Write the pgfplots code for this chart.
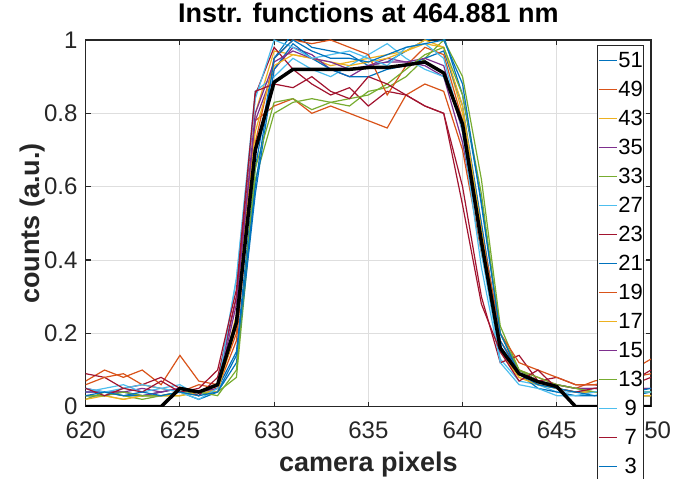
\documentclass[border=0pt]{standalone}
\usepackage{pgfplots}
\usepackage{pgfplotstable}
\pgfplotsset{compat=1.18}
\usepackage{fontspec}
\setmainfont{Liberation Sans}
\definecolor{mblue}{RGB}{0,114,189}
\definecolor{morange}{RGB}{217,83,25}
\definecolor{myellow}{RGB}{237,177,32}
\definecolor{mpurple}{RGB}{126,47,142}
\definecolor{mgreen}{RGB}{119,172,48}
\definecolor{mlight}{RGB}{77,190,238}
\definecolor{mred}{RGB}{162,20,47}
\definecolor{mgray}{RGB}{38,38,38}
\pgfplotstableread{
x   s51  s49  s43  s35  s33  s27  s23  s21  s19  s17  s15  s13  s9   s7   s3   mean
620 0.04 0.07 0.03 0.05 0.02 0.04 0.09 0.03 0.06 0.02 0.04 0.03 0.05 0.05 0.03 0
621 0.04 0.10 0.03 0.04 0.04 0.05 0.08 0.03 0.08 0.03 0.04 0.03 0.04 0.03 0.04 0
622 0.03 0.08 0.02 0.04 0.03 0.06 0.05 0.04 0.09 0.02 0.04 0.04 0.05 0.05 0.03 0
623 0.03 0.10 0.03 0.05 0.02 0.04 0.06 0.03 0.06 0.03 0.03 0.03 0.06 0.04 0.04 0
624 0.04 0.06 0.03 0.04 0.03 0.05 0.08 0.03 0.05 0.03 0.04 0.03 0.05 0.07 0.03 0
625 0.05 0.14 0.04 0.05 0.03 0.06 0.05 0.04 0.04 0.03 0.05 0.04 0.04 0.04 0.04 0.05
626 0.03 0.07 0.03 0.04 0.04 0.03 0.03 0.02 0.06 0.04 0.04 0.04 0.02 0.05 0.03 0.04
627 0.05 0.06 0.05 0.06 0.04 0.06 0.08 0.04 0.05 0.04 0.05 0.03 0.05 0.10 0.04 0.06
628 0.15 0.20 0.25 0.30 0.08 0.35 0.30 0.12 0.18 0.22 0.28 0.10 0.35 0.32 0.14 0.23
629 0.65 0.78 0.80 0.78 0.62 0.86 0.85 0.58 0.72 0.75 0.80 0.65 0.84 0.86 0.60 0.70
630 0.95 0.82 0.97 0.92 0.80 0.90 0.98 0.92 0.95 0.93 0.94 0.83 1.00 0.88 0.95 0.885
631 1.02 0.84 0.96 0.98 0.83 0.95 0.92 0.99 1.00 0.96 0.97 0.84 0.98 0.87 1.00 0.92
632 0.98 0.80 0.95 0.96 0.84 0.92 0.88 0.95 0.99 0.95 0.95 0.81 0.95 0.90 0.97 0.92
633 0.97 0.82 0.93 0.92 0.83 0.90 0.85 0.92 1.00 0.94 0.94 0.83 0.96 0.86 0.95 0.92
634 0.96 0.80 0.94 0.90 0.82 0.93 0.87 0.90 0.98 0.93 0.92 0.84 0.97 0.84 0.95 0.92
635 0.93 0.78 0.95 0.93 0.86 0.96 0.82 0.90 0.96 0.94 0.93 0.85 0.95 0.90 0.94 0.925
636 0.94 0.76 0.96 0.95 0.87 0.99 0.86 0.92 0.85 0.95 0.94 0.88 0.93 0.88 0.96 0.925
637 0.97 0.85 0.97 0.94 0.90 0.95 0.85 0.93 0.93 0.97 0.94 0.92 0.98 0.85 0.98 0.932
638 1.00 0.88 0.99 0.93 0.95 0.92 0.82 0.95 0.98 1.00 0.95 0.96 0.99 0.82 0.99 0.94
639 1.01 0.86 0.98 0.90 1.00 0.90 0.80 0.97 0.96 0.98 0.93 0.98 0.95 0.80 1.00 0.91
640 0.85 0.70 0.80 0.72 0.90 0.78 0.60 0.82 0.78 0.82 0.75 0.85 0.75 0.55 0.88 0.77
641 0.56 0.42 0.50 0.45 0.62 0.42 0.30 0.50 0.48 0.48 0.45 0.58 0.38 0.28 0.55 0.45
642 0.20 0.18 0.15 0.15 0.22 0.13 0.12 0.18 0.20 0.15 0.15 0.20 0.12 0.15 0.20 0.16
643 0.10 0.10 0.08 0.10 0.10 0.07 0.14 0.09 0.12 0.08 0.09 0.10 0.06 0.07 0.09 0.09
644 0.07 0.08 0.06 0.07 0.07 0.06 0.07 0.05 0.10 0.06 0.07 0.08 0.05 0.10 0.06 0.068
645 0.05 0.06 0.05 0.06 0.06 0.04 0.08 0.04 0.08 0.05 0.06 0.06 0.03 0.05 0.05 0.055
646 0.04 0.05 0.04 0.05 0.05 0.04 0.06 0.03 0.06 0.04 0.05 0.05 0.03 0.04 0.04 0
647 0.04 0.07 0.04 0.05 0.04 0.05 0.06 0.03 0.06 0.04 0.05 0.04 0.04 0.05 0.03 0
648 0.03 0.08 0.03 0.04 0.04 0.05 0.05 0.03 0.07 0.04 0.05 0.04 0.05 0.06 0.04 0
649 0.03 0.10 0.03 0.05 0.04 0.04 0.06 0.03 0.08 0.03 0.05 0.04 0.04 0.07 0.04 0
650 0.04 0.13 0.03 0.05 0.04 0.04 0.08 0.03 0.09 0.03 0.05 0.04 0.04 0.10 0.05 0
}\data
\begin{document}
\begin{tikzpicture}
\begin{axis}[
  at={(0pt,0pt)}, anchor=south west,
  scale only axis, width=565.3pt, height=366.7pt,
  xmin=620, xmax=650, ymin=0, ymax=1,
  xtick={620,625,630,635,640,645,650},
  ytick={0,0.2,0.4,0.6,0.8,1},
  /pgf/number format/assume math mode=true,
  tick label style={font=\fontsize{24}{24}\selectfont, text=mgray},
  xticklabel style={anchor=north, inner sep=0pt, yshift=-15pt},
  yticklabel style={anchor=east, inner sep=0pt, xshift=-8pt},
  xtick pos=both, ytick pos=both, tick align=inside,
  major tick length=5pt,
  axis line style={draw=mgray, line width=1.1pt},
  tick style={draw=mgray, line width=1.1pt},
  grid=major,
  major grid style={draw=black!13, line width=0.9pt},
  title={Instr. functions at 464.881 nm},
  title style={at={(axis description cs:0.5,1.032)}, anchor=base, inner sep=0pt, font=\bfseries\fontsize{27}{27}\selectfont},
  xlabel={camera pixels},
  xlabel style={at={(axis description cs:0.5,-0.1773)}, anchor=base, inner sep=0pt, font=\bfseries\fontsize{27}{27}\selectfont, text=mgray},
  ylabel={counts (a.u.)},
  ylabel style={at={(axis description cs:-0.0708,0.5)}, anchor=south, inner sep=0pt, font=\bfseries\fontsize{27}{27}\selectfont, text=mgray},
  legend cell align=center,
  legend style={at={(rel axis cs:0.9045,0.9864)}, anchor=north west, draw=mgray, line width=0.9pt, fill=white,
    font=\fontsize{22}{22}\selectfont, inner xsep=0.8pt, inner ysep=7pt,
    nodes={inner sep=0pt, minimum width=24pt},
    row sep=12.15pt, column sep=1pt},
  legend image code/.code={\draw[#1] (0pt,0pt) -- (18pt,0pt);},
  every axis plot/.append style={line width=1.2pt},
]
\addplot[mblue] table[x=x,y=s51] {\data};
\addplot[morange] table[x=x,y=s49] {\data};
\addplot[myellow] table[x=x,y=s43] {\data};
\addplot[mpurple] table[x=x,y=s35] {\data};
\addplot[mgreen] table[x=x,y=s33] {\data};
\addplot[mlight] table[x=x,y=s27] {\data};
\addplot[mred] table[x=x,y=s23] {\data};
\addplot[mblue] table[x=x,y=s21] {\data};
\addplot[morange] table[x=x,y=s19] {\data};
\addplot[myellow] table[x=x,y=s17] {\data};
\addplot[mpurple] table[x=x,y=s15] {\data};
\addplot[mgreen] table[x=x,y=s13] {\data};
\addplot[mlight] table[x=x,y=s9] {\data};
\addplot[mred] table[x=x,y=s7] {\data};
\addplot[mblue] table[x=x,y=s3] {\data};
\addplot[black, line width=3.5pt, forget plot] table[x=x,y=mean] {\data};
\legend{51,49,43,35,33,27,23,21,19,17,15,13,9,7,3}
\end{axis}
\pgfresetboundingbox
\path[use as bounding box] (-85.7pt,-72.3pt) rectangle (602.3pt,406.7pt);
\end{tikzpicture}
\end{document}
